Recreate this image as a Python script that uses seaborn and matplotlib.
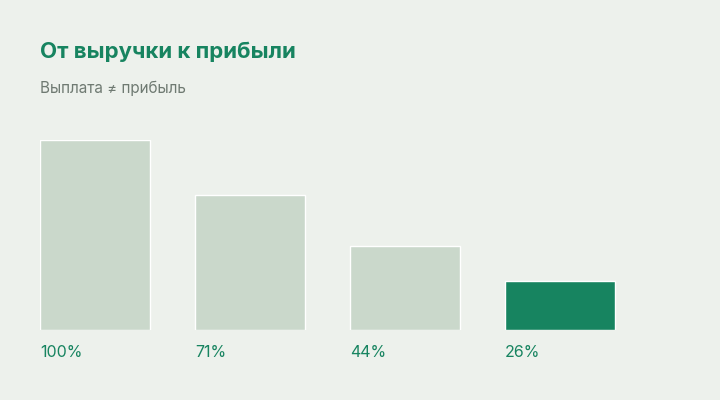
import matplotlib
matplotlib.use("Agg")
import matplotlib.pyplot as plt
import seaborn as sns
import pandas as pd

stages = ["Выручка", "Валовая", "Операционная", "Чистая"]
values = [100, 71, 44, 26]
labels = ["100%", "71%", "44%", "26%"]
colors = ["#CAD8CB", "#CAD8CB", "#CAD8CB", "#178460"]

bg = "#EDF1EC"
green = "#178460"

sns.set_theme(style="white")
plt.rcParams['font.family'] = ['Inter', 'DejaVu Sans']

df = pd.DataFrame({"stage": stages, "value": values})

fig = plt.figure(figsize=(7.2, 4.0), dpi=100, facecolor=bg)
ax = fig.add_axes([40 / 720, 70 / 400, 680 / 720, 190 / 400])
ax.set_facecolor(bg)
sns.barplot(data=df, x="stage", y="value", hue="stage", palette=colors,
            width=110 / 155, legend=False, ax=ax, saturation=1)
ax.set_xlim(-0.355, -0.355 + 680 / 155)
ax.set_ylim(0, 100)
ax.axis("off")

for i, lab in enumerate(labels):
    ax.text(i - 0.355, -8, lab, ha="left", va="top", color=green, fontsize=11.5)

fig.text(40 / 720, 1 - 52 / 400, "От выручки к прибыли", fontsize=16, fontweight="bold",
         color=green, va="center", ha="left")
fig.text(40 / 720, 1 - 88 / 400, "Выплата ≠ прибыль", fontsize=11, color="#6F7A72",
         va="center", ha="left")

fig.savefig("out.png", dpi=100, facecolor=bg)
